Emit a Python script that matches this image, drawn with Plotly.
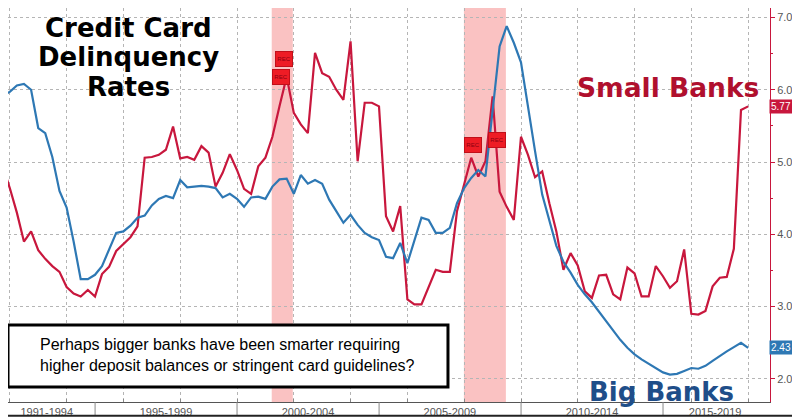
import pandas as pd
import plotly.graph_objects as go

# quarterly delinquency rates (%), Q3 1991 .. Q4 2017
big_banks = [5.92, 5.97, 6.06, 6.08, 6.00, 5.47, 5.40, 5.07, 4.60, 4.37,
             3.90, 3.38, 3.38, 3.44, 3.56, 3.80, 4.02, 4.04, 4.12, 4.23,
             4.26, 4.40, 4.49, 4.53, 4.50, 4.75, 4.65, 4.66, 4.67, 4.66,
             4.64, 4.51, 4.56, 4.49, 4.38, 4.51, 4.52, 4.49, 4.66, 4.76,
             4.77, 4.56, 4.82, 4.70, 4.75, 4.70, 4.48, 4.32, 4.16, 4.27,
             4.13, 4.02, 3.96, 3.92, 3.69, 3.67, 3.88, 3.60, 3.93, 4.23,
             4.20, 4.02, 4.02, 4.09, 4.43, 4.64, 4.78, 4.89, 4.80, 5.75,
             6.60, 6.88, 6.65, 6.38, 5.80, 5.15, 4.55, 4.18, 3.84, 3.62,
             3.47, 3.30, 3.17, 3.06, 2.93, 2.80, 2.66, 2.54, 2.43, 2.34,
             2.27, 2.21, 2.14, 2.09, 2.06, 2.07, 2.11, 2.15, 2.14, 2.18,
             2.25, 2.32, 2.38, 2.44, 2.50, 2.43]
small_banks = [4.94, 4.64, 4.30, 3.90, 4.04, 3.78, 3.66, 3.56, 3.48, 3.27,
               3.18, 3.14, 3.23, 3.14, 3.45, 3.55, 3.77, 3.87, 3.96, 4.11,
               5.06, 5.07, 5.10, 5.17, 5.49, 5.05, 5.07, 5.03, 5.22, 5.13,
               4.66, 4.85, 5.11, 4.89, 4.63, 4.56, 4.94, 5.06, 5.35, 5.77,
               6.18, 5.68, 5.52, 5.40, 6.51, 6.23, 6.18, 6.00, 5.86, 6.67,
               5.01, 5.82, 5.82, 5.77, 4.25, 4.04, 4.39, 3.10, 3.03, 3.03,
               3.28, 3.51, 3.48, 3.48, 4.32, 4.69, 5.06, 4.80, 5.01, 5.91,
               4.59, 4.38, 4.20, 5.35, 5.10, 4.79, 4.87, 4.43, 4.04, 3.51,
               3.74, 3.57, 3.21, 3.12, 3.43, 3.44, 3.17, 3.10, 3.54, 3.46,
               3.14, 3.14, 3.56, 3.42, 3.26, 3.35, 3.79, 2.90, 2.89, 2.94,
               3.28, 3.40, 3.41, 3.80, 5.72, 5.77]
quarters = pd.date_range("1991-09-30", periods=len(big_banks), freq="QE")

recession_start = ["2001-03-22", "2007-12-28"]
recession_end = ["2001-12-18", "2009-06-20"]
rec_start_y = [6.17, 5.24]
rec_end_y = [6.43, 5.31]

period_centers = ["1993-04-20", "1997-07-01", "2002-07-01", "2007-07-01",
                  "2012-07-01", "2016-11-01"]
period_labels = ["1991-1994", "1995-1999", "2000-2004", "2005-2009",
                 "2010-2014", "2015-2019"]
period_breaks = ["1995-01-01", "2000-01-01", "2005-01-01", "2010-01-01",
                 "2015-01-01"]
grid_years = [f"{y}-01-01" for y in range(1992, 2020, 2)]

RED = "#C8173D"
BLUE = "#2E78B4"

fig = go.Figure()
fig.add_trace(go.Scatter(x=quarters, y=small_banks, mode="lines",
                         line=dict(color=RED, width=2.2), name="Small Banks"))
fig.add_trace(go.Scatter(x=quarters, y=big_banks, mode="lines",
                         line=dict(color=BLUE, width=2.2), name="Big Banks"))

for s, e in zip(recession_start, recession_end):
    fig.add_vrect(x0=s, x1=e, fillcolor="rgba(244,120,120,0.45)",
                  line_width=0, layer="below")

# REC flags at start / end of each recession
for s, e, ys, ye in zip(recession_start, recession_end, rec_start_y, rec_end_y):
    fig.add_annotation(x=s, y=ys, text="REC", showarrow=False, xanchor="left",
                       font=dict(size=6, color="#8a0010"), bgcolor="#EE1C25",
                       bordercolor="#c0101a", borderwidth=1,
                       width=16, height=14, borderpad=0)
    fig.add_annotation(x=e, y=ye, text="REC", showarrow=False, xanchor="right",
                       font=dict(size=6, color="#8a0010"), bgcolor="#EE1C25",
                       bordercolor="#c0101a", borderwidth=1,
                       width=16, height=14, borderpad=0)

for b in period_breaks:
    fig.add_shape(type="line", x0=b, x1=b, xref="x", yref="paper", y0=0,
                  y1=-0.033, line=dict(color="#888", width=1))

# dark rule along the bottom edge of the picture
fig.add_shape(type="line", xref="paper", yref="paper", x0=0, x1=1.05,
              y0=-0.035, y1=-0.035, line=dict(color="#222", width=2))

# text box
fig.add_shape(type="rect", xref="paper", yref="paper", x0=0.0, x1=0.5774,
              y0=0.038, y1=0.1954, line=dict(color="black", width=3),
              fillcolor="white", layer="above")
fig.add_annotation(xref="paper", yref="paper", x=0.0394, y=0.119,
                   xanchor="left", yanchor="middle", align="left", showarrow=False,
                   text="Perhaps bigger banks have been smarter requiring<br>"
                        "higher deposit balances or stringent card guidelines?",
                   font=dict(family="Liberation Sans, Arial", size=16, color="black"))

title_lines = ["Credit Card", "Delinquency", "Rates"]
for line, yp in zip(title_lines, [0.950, 0.876, 0.800]):
    fig.add_annotation(xref="paper", yref="paper", x=0.1575, y=yp, xanchor="center",
                       yanchor="middle", text=f"<b>{line}</b>", showarrow=False,
                       font=dict(family="DejaVu Sans", size=26, color="black"))

fig.add_annotation(xref="paper", yref="paper", x=0.866, y=0.797, xanchor="center",
                   yanchor="middle", text="<b>Small Banks</b>", showarrow=False,
                   font=dict(family="DejaVu Sans", size=26.5, color="#B0102E"))
fig.add_annotation(xref="paper", yref="paper", x=0.857, y=0.026, xanchor="center",
                   yanchor="middle", text="<b>Big Banks</b>", showarrow=False,
                   font=dict(family="DejaVu Sans", size=26, color="#1F4E89"))

# last value tags on the right axis
for vals, col in [(small_banks, RED), (big_banks, BLUE)]:
    fig.add_annotation(xref="paper", x=1, xanchor="left", xshift=-1, y=vals[-1],
                       text=f"{vals[-1]:.2f}", showarrow=False, bgcolor=col,
                       font=dict(family="Liberation Sans, Arial", size=10, color="white"),
                       borderpad=1)

# the page body adds an 8px offset, so the plot area is laid out for it
fig.update_layout(
    width=800, height=419,
    margin=dict(l=0, r=38, t=0, b=25),
    paper_bgcolor="white", plot_bgcolor="white",
    showlegend=False,
    font=dict(family="Liberation Sans, Arial", color="#555"),
    xaxis=dict(range=["1991-12-08", "2018-10-08"], tickmode="array",
               tickvals=period_centers, ticktext=period_labels, ticks="",
               showgrid=False, showline=True, linecolor="#555", linewidth=1,
               tickfont=dict(size=11, color="#555"), zeroline=False,
               minor=dict(tickmode="array", tickvals=grid_years, showgrid=True,
                          griddash="dot", gridcolor="#b5b5b5", gridwidth=1,
                          ticks="inside", ticklen=3, tickcolor="#888")),
    yaxis=dict(range=[1.68, 7.131], side="right", tickvals=[2, 3, 4, 5, 6, 7],
               tickformat=".2f", ticks="outside", ticklen=4, tickcolor=RED,
               showline=True, linecolor=RED, linewidth=1, zeroline=False,
               showgrid=True, griddash="dot", gridcolor="#b5b5b5",
               tickfont=dict(size=11, color="#555"),
               minor=dict(dtick=0.5, ticks="outside", ticklen=2, tickcolor=RED,
                          showgrid=False)),
)

fig.write_html("out.html")
